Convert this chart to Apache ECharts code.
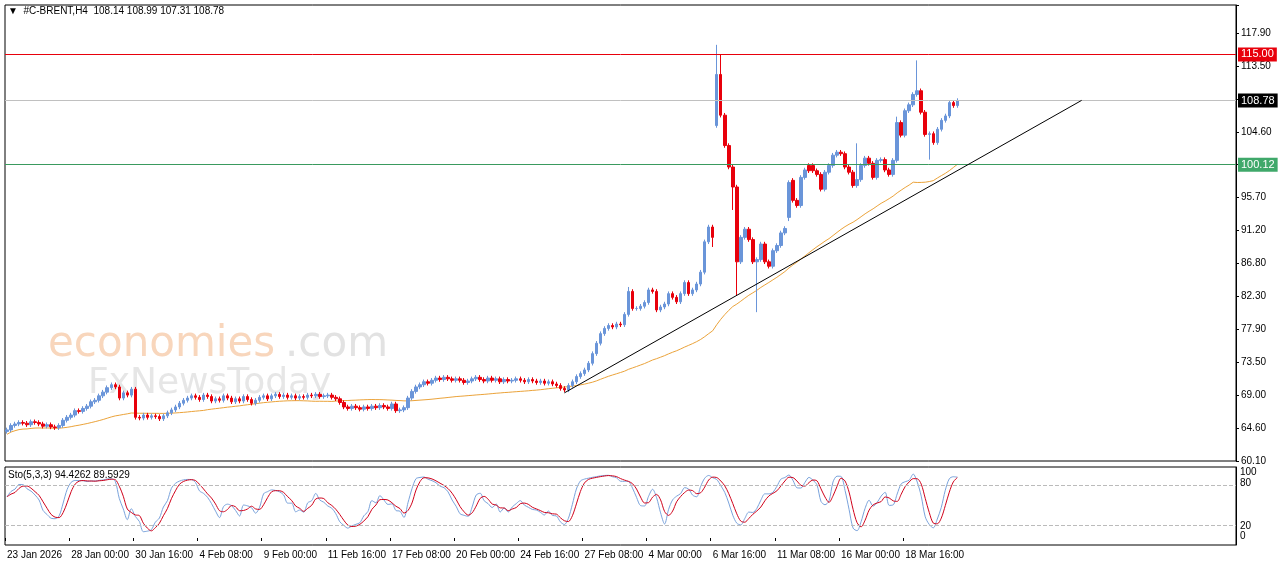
<!DOCTYPE html>
<html>
<head>
<meta charset="utf-8">
<script src="https://cdn.jsdelivr.net/npm/echarts@6/dist/echarts.min.js"></script>
<style>
  html, body { margin: 0; padding: 0; background: #fff; }
  #chart { width: 1280px; height: 567px; }
</style>
</head>
<body>
<div id="chart"></div>
<script>
// H4 closes, 16 bars per date label
var closes = [
  64.3,64.9,65.1,65.3,65.2,65.0,65.4,65.3,65.1,64.8,65.0,64.7,64.6,64.9,65.6,66.0,
  66.3,66.9,66.8,67.2,67.5,68.1,68.3,68.9,69.4,70.0,70.4,70.1,68.6,69.3,69.0,69.8,
  66.0,65.9,66.3,66.0,66.2,66.1,65.8,66.2,66.6,67.0,67.4,67.9,68.3,68.6,68.9,68.7,
  68.4,69.0,68.8,68.2,68.5,68.3,68.9,68.6,68.1,68.5,68.2,68.8,68.4,67.9,68.3,68.7,
  68.9,68.5,68.9,69.1,68.8,69.0,68.7,68.9,68.6,68.8,68.7,69.0,68.9,69.1,68.8,68.9,
  69.0,68.7,68.5,68.0,67.4,67.2,67.5,67.3,67.1,67.4,67.2,67.5,67.3,67.6,67.4,67.2,
  67.8,66.9,67.0,67.3,68.6,69.5,70.1,70.4,70.8,70.6,71.0,71.3,71.1,71.4,71.2,71.0,
  71.2,71.0,70.7,70.9,71.2,71.4,71.1,70.9,71.3,71.0,71.2,70.8,71.1,70.9,71.0,71.2,
  71.0,70.8,71.1,70.9,70.7,70.9,70.6,70.8,70.5,70.3,69.9,69.7,70.3,70.8,71.5,71.9,
  72.4,73.3,74.6,76.0,77.3,78.0,78.4,78.2,78.6,78.5,79.9,83.0,80.7,80.7,81.0,81.5,
  83.2,83.0,80.5,80.9,81.3,82.7,82.2,81.6,82.7,84.2,82.7,83.2,84.0,85.6,89.7,91.7,
  90.3,112.3,106.8,102.7,99.8,97.1,87.0,90.3,91.4,90.0,87.0,87.3,89.4,87.0,86.4,88.5,
  89.2,90.9,91.5,97.7,95.3,94.6,98.4,99.4,99.3,99.3,98.8,96.8,99.1,100.0,101.4,101.8,
  101.6,99.8,99.1,97.3,98.1,100.0,101.0,100.3,98.4,100.7,100.8,99.4,98.8,100.7,105.8,104.1,
  107.4,108.2,109.6,110.1,107.2,104.2,104.3,103.1,104.9,106.1,106.7,108.5,108.1,108.78
];
// bars that did not open at the previous close (gaps)
var openGaps = { 177: 105.4, 195: 93.0, 196: 98.0, 200: 100.0, 201: 100.0 };
// notable wick extremes
var highs = { 177: 116.3, 178: 115.0, 155: 83.6, 222: 106.6, 227: 114.2, 212: 103.0 };
var lows = { 181: 94.0, 182: 82.5, 187: 80.2, 230: 100.8, 176: 89.0, 195: 92.5 };

var dateLabels = ['23 Jan 2026','28 Jan 00:00','30 Jan 16:00','4 Feb 08:00','9 Feb 00:00',
  '11 Feb 16:00','17 Feb 08:00','20 Feb 00:00','24 Feb 16:00','27 Feb 08:00','4 Mar 00:00',
  '6 Mar 16:00','11 Mar 08:00','16 Mar 00:00','18 Mar 16:00'];
var priceLabels = ['60.10','64.60','69.00','73.50','77.90','82.30','86.80','91.20','95.70','','104.60','','113.50','117.90'];
var stoLabels = ['100', '80', '20', '0'];

var totalSlots = 307;
var cats = [];
for (var i = 0; i < totalSlots; i++) cats.push(i % 16 === 0 && dateLabels[i / 16] ? dateLabels[i / 16] : '');

var candles = [];
for (var i = 0; i < closes.length; i++) {
  var o = openGaps[i] != null ? openGaps[i] : (i ? closes[i - 1] : 64.1);
  var c = closes[i];
  var h = highs[i] != null ? highs[i] : Math.max(o, c) + 0.3;
  var l = lows[i] != null ? lows[i] : Math.min(o, c) - 0.3;
  candles.push([o, c, l, h]);
}

// moving average of closes
var ma = [];
for (var i = 0; i < closes.length; i++) {
  var s = 0, n = 0;
  for (var j = Math.max(0, i - 49); j <= i; j++) { s += closes[j]; n++; }
  ma.push(+(s / n - 0.6 * (1 - Math.min(i, 50) / 50)).toFixed(2));
}

// stochastic 5,3,3
var raw = [];
for (var i = 0; i < candles.length; i++) {
  var hh = -1e9, ll = 1e9;
  for (var j = Math.max(0, i - 4); j <= i; j++) { hh = Math.max(hh, candles[j][3]); ll = Math.min(ll, candles[j][2]); }
  raw.push(hh === ll ? 50 : (closes[i] - ll) / (hh - ll) * 100);
}
function sma3(a) { return a.map(function (v, i) { var s = 0, n = 0; for (var j = Math.max(0, i - 2); j <= i; j++) { s += a[j]; n++; } return +(s / n).toFixed(2); }); }
var stoK = sma3(raw);
var stoD = sma3(stoK);

var chart = echarts.init(document.getElementById('chart'));
var font = 'Liberation Sans';
var pMin = 60.1, pTop = 117.9, pInt = (pTop - pMin) / 13;

function hLine(v, col, bg, fg) {
  return {
    yAxis: v,
    lineStyle: { color: col, type: 'solid', width: 1 },
    label: { show: true, position: 'end', distance: 2, formatter: v.toFixed(2), color: fg,
      backgroundColor: bg, padding: [2, 3, 1, 3], fontSize: 11, fontFamily: font }
  };
}

chart.setOption({
  animation: false,
  backgroundColor: '#fff',
  grid: [
    { left: 5, right: 44, top: 5, height: 456, show: true, borderColor: '#000', borderWidth: 1 },
    { left: 5, right: 44, top: 467, height: 78, show: true, borderColor: '#000', borderWidth: 1 }
  ],
  graphic: [
    { type: 'text', left: 8, top: 6, style: { text: '▼  #C-BRENT,H4  108.14 108.99 107.31 108.78', fill: '#000', font: '10px ' + font } },
    { type: 'text', left: 48, top: 324, z: -1, style: { text: 'economies', fill: '#f8d6bc', font: '42px "DejaVu Sans"' } },
    { type: 'text', left: 285, top: 324, z: -1, style: { text: '.com', fill: '#e2e2e2', font: '42px "DejaVu Sans"' } },
    { type: 'text', left: 88, top: 366, z: -1, style: { text: 'FxNewsToday', fill: '#e6e6e6', font: '36px "DejaVu Sans"' } },
    { type: 'text', left: 8, top: 470, style: { text: 'Sto(5,3,3) 94.4262 89.5929', fill: '#000', font: '10px ' + font } },
    { type: 'text', left: 1240, top: 467, style: { text: stoLabels[0], fill: '#000', font: '10px ' + font } },
    { type: 'text', left: 1240, top: 478, style: { text: stoLabels[1], fill: '#000', font: '10px ' + font } },
    { type: 'text', left: 1240, top: 521, style: { text: stoLabels[2], fill: '#000', font: '10px ' + font } },
    { type: 'text', left: 1240, top: 531, style: { text: stoLabels[3], fill: '#000', font: '10px ' + font } }
  ],
  xAxis: [
    { type: 'category', data: cats, gridIndex: 0, boundaryGap: true,
      axisLine: { show: false }, axisTick: { show: false }, axisLabel: { show: false }, splitLine: { show: false } },
    { type: 'category', data: cats, gridIndex: 1, boundaryGap: true,
      axisLine: { show: false },
      axisTick: { show: true, interval: function (i) { return cats[i] !== ''; }, length: 3, lineStyle: { color: '#000' } },
      axisLabel: { interval: function (i) { return cats[i] !== ''; }, align: 'left', margin: 5, hideOverlap: false,
        fontSize: 10, fontFamily: font, color: '#000' },
      splitLine: { show: false } }
  ],
  yAxis: [
    { type: 'value', gridIndex: 0, position: 'right', min: pMin, max: 121.68, interval: pInt,
      axisLine: { show: true, lineStyle: { color: '#000' } },
      axisTick: { show: true, length: 3, lineStyle: { color: '#000' } },
      axisLabel: { margin: 5, fontSize: 10, fontFamily: font, color: '#000',
        formatter: function (v) { var k = Math.round((v - pMin) / pInt); return priceLabels[k] != null ? priceLabels[k] : ''; } },
      splitLine: { show: false } },
    { type: 'value', gridIndex: 1, position: 'right', min: -10.6, max: 107.6,
      axisLine: { show: true, lineStyle: { color: '#000' } },
      axisTick: { show: false }, axisLabel: { show: false }, splitLine: { show: false } }
  ],
  series: [
    { type: 'candlestick', xAxisIndex: 0, yAxisIndex: 0, data: candles, barWidth: 3,
      itemStyle: { color: '#6a95d9', color0: '#e8000b', borderColor: '#6a95d9', borderColor0: '#e8000b', borderWidth: 1 },
      markLine: { symbol: 'none', silent: true, animation: false,
        data: [
          hLine(115.00, '#e8000b', '#e8000b', '#fff'),
          hLine(108.78, '#c0c0c0', '#000', '#fff'),
          hLine(100.12, '#3a9a5e', '#3fa86a', '#fff'),
          [ { coord: [139, 69.3], lineStyle: { color: '#000', width: 1, type: 'solid' }, label: { show: false } },
            { coord: [268, 108.8] } ]
        ] } },
    { type: 'line', xAxisIndex: 0, yAxisIndex: 0, data: ma, symbol: 'none',
      lineStyle: { color: '#eba33a', width: 1 }, z: 1 },
    { type: 'line', xAxisIndex: 1, yAxisIndex: 1, data: stoK, symbol: 'none', smooth: 0.3,
      lineStyle: { color: '#7aa3dc', width: 1 },
      markLine: { symbol: 'none', silent: true, label: { show: false },
        data: [
          { yAxis: 80, lineStyle: { color: '#bbb', type: 'dashed', width: 1 } },
          { yAxis: 20, lineStyle: { color: '#bbb', type: 'dashed', width: 1 } }
        ] } },
    { type: 'line', xAxisIndex: 1, yAxisIndex: 1, data: stoD, symbol: 'none', smooth: 0.3,
      lineStyle: { color: '#d0021b', width: 1 } }
  ]
});
</script>
</body>
</html>
